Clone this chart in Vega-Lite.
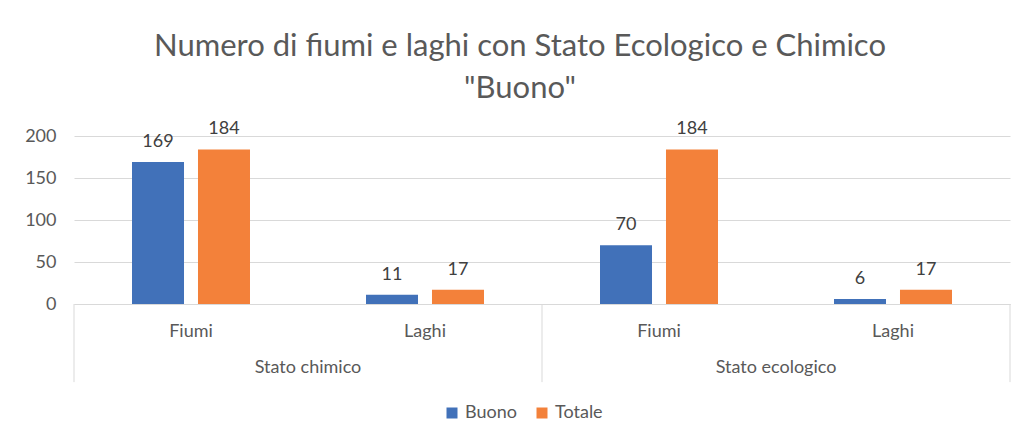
{
  "$schema": "https://vega.github.io/schema/vega-lite/v6.json",
  "width": 936,
  "height": 168,
  "autosize": {"type": "none"},
  "padding": {"left": 74, "top": 136, "right": 10, "bottom": 137},
  "background": "white",
  "config": {
    "font": "Lato",
    "view": {"stroke": null},
    "axis": {"labelFont": "Lato", "labelColor": "#595959", "labelFontSize": 18}
  },
  "title": {
    "text": ["Numero di fiumi e laghi con Stato Ecologico e Chimico", "\"Buono\""],
    "font": "Lato",
    "fontSize": 31,
    "fontWeight": "normal",
    "color": "#595959",
    "lineHeight": 42,
    "anchor": "middle",
    "dx": -22,
    "offset": 15
  },
  "datasets": {
    "bars": [
      {"cat": "Stato chimico|Fiumi", "serie": "Buono", "valore": 169},
      {"cat": "Stato chimico|Fiumi", "serie": "Totale", "valore": 184},
      {"cat": "Stato chimico|Laghi", "serie": "Buono", "valore": 11},
      {"cat": "Stato chimico|Laghi", "serie": "Totale", "valore": 17},
      {"cat": "Stato ecologico|Fiumi", "serie": "Buono", "valore": 70},
      {"cat": "Stato ecologico|Fiumi", "serie": "Totale", "valore": 184},
      {"cat": "Stato ecologico|Laghi", "serie": "Buono", "valore": 6},
      {"cat": "Stato ecologico|Laghi", "serie": "Totale", "valore": 17}
    ],
    "groups": [
      {"cat": "Stato chimico|Laghi", "label": "Stato chimico"},
      {"cat": "Stato ecologico|Laghi", "label": "Stato ecologico"}
    ],
    "sepStart": [
      {"cat": "Stato chimico|Fiumi"},
      {"cat": "Stato ecologico|Fiumi"}
    ],
    "sepEnd": [
      {"cat": "Stato ecologico|Laghi"}
    ]
  },
  "encoding": {
    "x": {
      "field": "cat",
      "type": "nominal",
      "sort": ["Stato chimico|Fiumi", "Stato chimico|Laghi", "Stato ecologico|Fiumi", "Stato ecologico|Laghi"],
      "scale": {"paddingInner": 0, "paddingOuter": 0, "domain": ["Stato chimico|Fiumi", "Stato chimico|Laghi", "Stato ecologico|Fiumi", "Stato ecologico|Laghi"]},
      "axis": {
        "title": null,
        "labelAngle": 0,
        "ticks": false,
        "labelPadding": 18,
        "domainColor": "#d9d9d9",
        "domainWidth": 1,
        "labelExpr": "split(datum.label, '|')[1]"
      }
    }
  },
  "layer": [
    {
      "data": {"name": "bars"},
      "mark": {"type": "bar"},
      "encoding": {
        "xOffset": {"field": "serie", "type": "nominal", "scale": {"paddingInner": 0.212, "paddingOuter": 0.879}},
        "y": {
          "field": "valore",
          "type": "quantitative",
          "scale": {"domain": [0, 200], "nice": false},
          "axis": {
            "title": null,
            "values": [0, 50, 100, 150, 200],
            "domain": false,
            "ticks": false,
            "labelPadding": 18,
            "gridColor": "#d9d9d9",
            "gridWidth": 1
          }
        },
        "color": {
          "field": "serie",
          "type": "nominal",
          "scale": {"domain": ["Buono", "Totale"], "range": ["#4171B9", "#F3813A"]},
          "legend": {
            "title": null,
            "orient": "none",
            "legendX": 369,
            "legendY": 268,
            "direction": "horizontal",
            "symbolType": "square",
            "symbolSize": 121,
            "symbolStrokeWidth": 0,
            "labelFontSize": 18,
            "labelColor": "#595959",
            "labelFont": "Lato",
            "columnPadding": 16,
            "labelOffset": 4
          }
        }
      }
    },
    {
      "data": {"name": "bars"},
      "mark": {"type": "text", "baseline": "alphabetic", "dy": -15, "fontSize": 18, "color": "#404040", "font": "Lato"},
      "encoding": {
        "xOffset": {"field": "serie", "type": "nominal", "scale": {"paddingInner": 0.212, "paddingOuter": 0.879}},
        "y": {"field": "valore", "type": "quantitative"},
        "text": {"field": "valore", "type": "quantitative"}
      }
    },
    {
      "data": {"name": "groups"},
      "mark": {"type": "text", "baseline": "middle", "fontSize": 18, "color": "#595959", "font": "Lato"},
      "encoding": {
        "x": {"field": "cat", "type": "nominal", "bandPosition": 0},
        "y": {"datum": -76},
        "text": {"field": "label"}
      }
    },
    {
      "data": {"name": "sepStart"},
      "mark": {"type": "rule", "color": "#d9d9d9", "strokeWidth": 1},
      "encoding": {
        "x": {"field": "cat", "type": "nominal", "bandPosition": 0},
        "y": {"datum": 0},
        "y2": {"datum": -93}
      }
    },
    {
      "data": {"name": "sepEnd"},
      "mark": {"type": "rule", "color": "#d9d9d9", "strokeWidth": 1},
      "encoding": {
        "x": {"field": "cat", "type": "nominal", "bandPosition": 1},
        "y": {"datum": 0},
        "y2": {"datum": -93}
      }
    }
  ]
}
